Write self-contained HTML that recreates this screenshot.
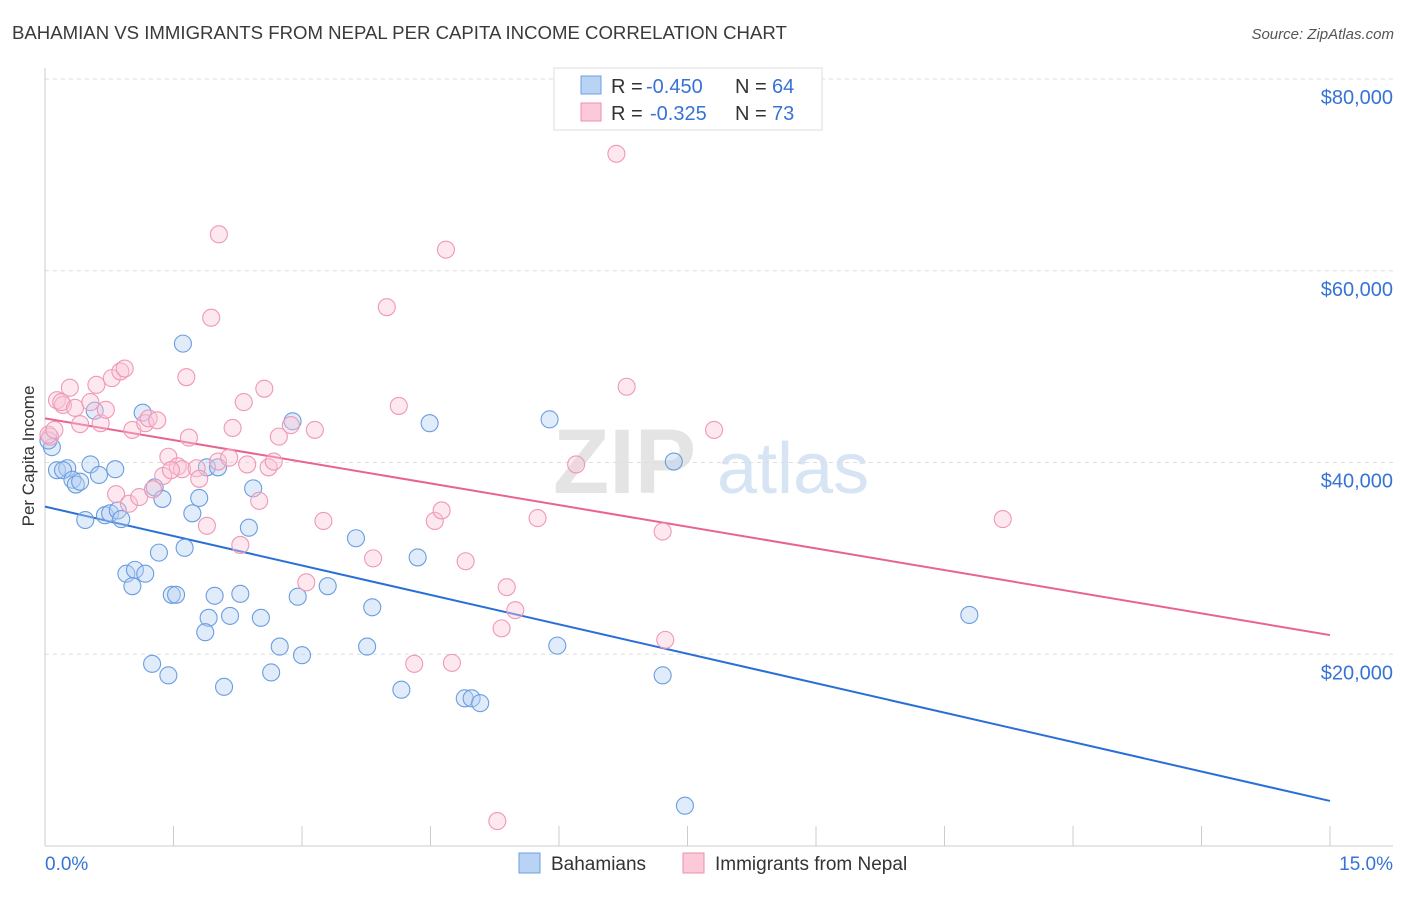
<!DOCTYPE html>
<html><head><meta charset="utf-8"><style>
body{margin:0;background:#fff;font-family:"Liberation Sans",sans-serif;}
svg text{font-family:"Liberation Sans",sans-serif;}
</style></head><body>
<svg id="chart" width="1406" height="892" xmlns="http://www.w3.org/2000/svg">
<text x="12" y="39" font-size="18.6" fill="#3a3a3a">BAHAMIAN VS IMMIGRANTS FROM NEPAL PER CAPITA INCOME CORRELATION CHART</text>
<text x="1394" y="39" font-size="15" fill="#555" text-anchor="end" font-style="italic">Source: ZipAtlas.com</text>
<text x="553" y="493" font-size="92" fill="#e4e4e4" font-family="Liberation Serif" font-weight="bold">ZIP</text>
<text x="717" y="493" font-size="72" fill="#d6e4f4">atlas</text>
<text transform="translate(34,456) rotate(-90)" font-size="17" fill="#333" text-anchor="middle">Per Capita Income</text>
<g id="grid"></g><g id="axes"></g><g id="trend"></g><g id="pts"></g>
<g>
<rect x="554" y="68" width="268" height="62" fill="#fff" stroke="#ddd"/>
<rect x="581" y="76" width="20" height="18" fill="#b8d3f4" stroke="#6b9fe0"/>
<rect x="581" y="103" width="20" height="18" fill="#fcc9d8" stroke="#ee8fae"/>
<text x="611" y="93" font-size="20" fill="#333">R =</text>
<text x="646" y="93" font-size="20" fill="#3773d6">-0.450</text>
<text x="735" y="93" font-size="20" fill="#333">N =</text>
<text x="772" y="93" font-size="20" fill="#3773d6">64</text>
<text x="611" y="120" font-size="20" fill="#333">R =</text>
<text x="650" y="120" font-size="20" fill="#3773d6">-0.325</text>
<text x="735" y="120" font-size="20" fill="#333">N =</text>
<text x="772" y="120" font-size="20" fill="#3773d6">73</text>
</g>
<g>
<rect x="519" y="853" width="21" height="20" fill="#b8d3f4" stroke="#6b9fe0"/>
<text x="551" y="870" font-size="19" fill="#333">Bahamians</text>
<rect x="683" y="853" width="21" height="20" fill="#fcc9d8" stroke="#ee8fae"/>
<text x="715" y="870" font-size="19" fill="#333">Immigrants from Nepal</text>
</g>
</svg>
<script>
const yTicks=[20000,40000,60000,80000];
const yTickLabels=["$20,000","$40,000","$60,000","$80,000"];
const xTicks=[0,1.5,3,4.5,6,7.5,9,10.5,12,13.5,15];
const xEndLabels=["0.0%","15.0%"];
const blueX=[1.61,0.08,0.04,0.14,0.26,0.21,0.32,0.36,0.41,0.53,0.63,0.58,0.82,0.47,0.70,0.76,0.85,0.89,1.14,1.28,1.37,0.95,1.05,1.17,1.02,1.33,1.63,1.72,1.80,1.48,1.53,1.25,1.44,1.89,2.02,2.43,2.38,1.98,2.28,1.91,2.16,2.52,1.87,2.09,2.74,2.64,3.00,2.95,2.89,3.30,3.63,3.82,3.76,4.16,4.35,4.49,4.90,4.98,5.08,5.89,5.98,7.34,7.21,10.79,7.47];
const blueY=[52.4,41.6,42.3,39.2,39.4,39.2,38.2,37.7,38.0,39.8,38.7,45.4,39.3,34.0,34.5,34.7,35.0,34.1,45.2,37.4,36.2,28.4,28.8,28.4,27.1,30.6,31.1,34.7,36.3,26.2,26.2,19.0,17.8,39.5,39.5,37.3,33.2,26.1,26.3,23.8,24.0,23.8,22.3,16.6,20.8,18.1,19.9,26.0,44.3,27.1,32.1,24.9,20.8,16.3,30.1,44.1,15.4,15.4,14.9,44.5,20.9,40.1,17.8,24.1,4.2];
const pinkX=[6.67,2.03,4.68,1.94,3.99,0.06,0.04,0.14,0.21,0.29,0.19,0.35,0.41,0.53,0.60,0.65,0.71,0.78,0.88,0.93,1.02,1.17,1.21,1.31,1.65,1.68,1.44,1.38,1.55,1.60,1.77,1.80,1.47,0.83,0.98,1.10,1.26,1.89,2.02,2.15,2.19,2.32,2.56,2.36,2.50,2.61,2.67,2.73,2.87,3.15,3.25,2.28,3.05,3.83,4.13,4.55,4.63,4.91,5.39,5.49,5.33,6.20,5.75,6.79,7.21,7.81,7.24,4.31,4.75,5.28,11.18,0.11];
const pinkY=[72.2,63.8,62.2,55.1,56.2,42.7,42.9,46.5,46.0,47.8,46.3,45.7,44.0,46.3,48.1,44.1,45.5,48.8,49.5,49.8,43.4,44.1,44.6,44.4,48.9,42.6,40.6,38.6,39.6,39.3,39.4,38.3,39.2,36.7,35.7,36.4,37.2,33.4,40.1,40.5,43.6,46.3,47.7,39.8,36.0,39.5,40.1,42.7,43.9,43.4,33.9,31.4,27.5,30.0,45.9,33.9,35.0,29.7,27.0,24.6,22.7,39.8,34.2,47.9,32.8,43.4,21.5,19.0,19.1,2.6,34.1,43.4];
const blueTrend=[35.4,4.7];
const pinkTrend=[44.6,22.0];
const X0=45,X1=1330,YB=846,YT=79;
const sx=v=>X0+(v/15)*(X1-X0);
const sy=v=>YB-(v/80000)*(YB-YT);
const NS="http://www.w3.org/2000/svg";
function mk(t,a,p){const e=document.createElementNS(NS,t);for(const k in a)e.setAttribute(k,a[k]);document.getElementById(p).appendChild(e);return e;}
yTicks.forEach((v,i)=>{
 const l=mk('line',{x1:X0,x2:1393,y1:sy(v),y2:sy(v),stroke:'#ddd','stroke-dasharray':'4,4'},'grid');
 
 
 const t=mk('text',{x:1393,y:sy(v)+25,'font-size':20,fill:'#3773d6','text-anchor':'end'},'grid');
 t.textContent=yTickLabels[i];
 
 
});
const ax=mk('line',{x1:X0,x2:X0,y1:68,y2:YB,stroke:'#ccc'},'axes');


const bx=mk('line',{x1:X0,x2:1393,y1:YB,y2:YB,stroke:'#ccc'},'axes');


xTicks.forEach(v=>{
 const l=mk('line',{x1:sx(v),x2:sx(v),y1:YB,y2:YB-20,stroke:'#ccc'},'axes');
 
 
});
const xl0=mk('text',{x:45,y:870,'font-size':19,fill:'#3773d6'},'axes');xl0.textContent=xEndLabels[0];


const xl1=mk('text',{x:1393,y:870,'font-size':19,fill:'#3773d6','text-anchor':'end'},'axes');xl1.textContent=xEndLabels[1];


function pts(xs,ys,fill,stroke,name){xs.forEach((x,i)=>{
 const c=mk('circle',{cx:sx(x),cy:sy(ys[i]*1000),r:8.5,fill:fill,'fill-opacity':0.4,stroke:stroke,'stroke-width':1.1},'pts');
 
 
});}
pts(blueX,blueY,'#b3cff2','#6a9de0','bahamian-point');
pts(pinkX,pinkY,'#fac6d6','#ef98b5','nepal-point');
const bl=mk('line',{x1:sx(0),y1:sy(blueTrend[0]*1000),x2:sx(15),y2:sy(blueTrend[1]*1000),stroke:'#2a6fd8','stroke-width':2},'trend');


const pl=mk('line',{x1:sx(0),y1:sy(pinkTrend[0]*1000),x2:sx(15),y2:sy(pinkTrend[1]*1000),stroke:'#e8648f','stroke-width':2},'trend');


</script>
</body></html>
